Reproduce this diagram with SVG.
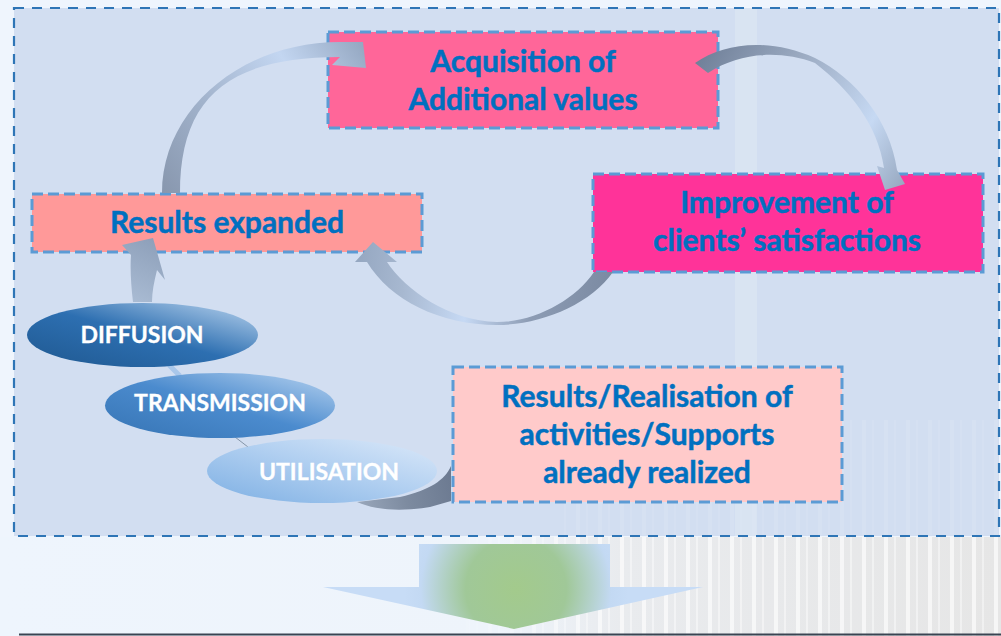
<svg xmlns="http://www.w3.org/2000/svg" width="1001" height="636" viewBox="0 0 1001 636">
<defs>
<style>
.box{stroke:#5b9bd5;stroke-width:3;stroke-dasharray:11 5}
.t{font-family:Lato,"Liberation Sans",sans-serif;font-weight:bold;fill:#0070c0;stroke:#0070c0;stroke-width:0.5;text-anchor:middle;font-size:30px}
.e{font-family:Lato,"Liberation Sans",sans-serif;font-weight:bold;fill:#ffffff;stroke:#ffffff;stroke-width:0.3;text-anchor:middle;font-size:23px}
</style>
<linearGradient id="bgBand" x1="0" y1="0" x2="1" y2="0">
<stop offset="0" stop-color="#eef5fd"/><stop offset="0.5" stop-color="#eef4fb"/><stop offset="0.62" stop-color="#e9ebee"/><stop offset="1" stop-color="#e6e6e6"/>
</linearGradient>
<pattern id="stripes" x="0" y="0" width="22" height="100" patternUnits="userSpaceOnUse">
<rect x="4" y="0" width="4" height="100" fill="#ffffff" opacity="0.8"/>
<rect x="14" y="0" width="2" height="100" fill="#ffffff" opacity="0.5"/>
</pattern>
<linearGradient id="fadeR" x1="0" y1="0" x2="1" y2="0">
<stop offset="0" stop-color="#fff" stop-opacity="0"/><stop offset="0.45" stop-color="#fff" stop-opacity="0"/><stop offset="0.6" stop-color="#fff" stop-opacity="1"/><stop offset="1" stop-color="#fff" stop-opacity="1"/>
</linearGradient>
<mask id="stripeMask"><rect x="0" y="0" width="1001" height="636" fill="url(#fadeR)"/></mask>
<linearGradient id="g1" x1="160" y1="193" x2="366" y2="42" gradientUnits="userSpaceOnUse">
<stop offset="0" stop-color="#8796ad"/><stop offset="0.35" stop-color="#a2b3cc"/><stop offset="0.7" stop-color="#c3d6f1"/><stop offset="1" stop-color="#92a5bf"/>
</linearGradient>
<linearGradient id="g2" x1="695" y1="60" x2="900" y2="190" gradientUnits="userSpaceOnUse">
<stop offset="0" stop-color="#6f7f98"/><stop offset="0.35" stop-color="#9aa9c0"/><stop offset="0.75" stop-color="#c6d9f3"/><stop offset="1" stop-color="#98a9c1"/>
</linearGradient>
<linearGradient id="g3" x1="612" y1="280" x2="355" y2="250" gradientUnits="userSpaceOnUse">
<stop offset="0" stop-color="#7b8aa2"/><stop offset="0.3" stop-color="#8d9cb4"/><stop offset="0.55" stop-color="#c6d9f4"/><stop offset="0.8" stop-color="#a7b8d0"/><stop offset="1" stop-color="#94a6c0"/>
</linearGradient>
<linearGradient id="g4" x1="355" y1="500" x2="453" y2="480" gradientUnits="userSpaceOnUse">
<stop offset="0" stop-color="#9aa8bc"/><stop offset="0.5" stop-color="#7d8ba0"/><stop offset="1" stop-color="#6c7a91"/>
</linearGradient>
<linearGradient id="g5" x1="130" y1="300" x2="160" y2="240" gradientUnits="userSpaceOnUse">
<stop offset="0" stop-color="#a9bbd3"/><stop offset="1" stop-color="#8d9fb9"/>
</linearGradient>
<linearGradient id="eD" x1="0" y1="1" x2="1" y2="0">
<stop offset="0" stop-color="#1f5890"/><stop offset="0.5" stop-color="#2d6fb1"/><stop offset="1" stop-color="#bcd5ef"/>
</linearGradient>
<linearGradient id="eT" x1="0" y1="1" x2="1" y2="0">
<stop offset="0" stop-color="#3674b4"/><stop offset="0.5" stop-color="#4b8bce"/><stop offset="1" stop-color="#b8d3f0"/>
</linearGradient>
<linearGradient id="eU" x1="0" y1="1" x2="1" y2="0">
<stop offset="0" stop-color="#7dafe3"/><stop offset="0.55" stop-color="#b2d0f1"/><stop offset="1" stop-color="#dce9f9"/>
</linearGradient>
<radialGradient id="gDown" cx="516" cy="589" r="112" gradientUnits="userSpaceOnUse">
<stop offset="0" stop-color="#a3ca8c"/><stop offset="0.45" stop-color="#a0c898"/><stop offset="0.85" stop-color="#c3d9f3"/><stop offset="1" stop-color="#c7dcf6"/>
</radialGradient>
</defs>

<g id="background">
<rect x="0" y="0" width="1001" height="636" fill="#eff5fd"/>
<rect x="0" y="537" width="1001" height="99" fill="url(#bgBand)"/>
<rect x="0" y="537" width="1001" height="99" fill="url(#stripes)" mask="url(#stripeMask)" opacity="0.8"/>
<rect x="14" y="8" width="985" height="528" fill="#d2def1"/>
<rect x="560" y="420" width="438" height="115" fill="url(#stripes)" opacity="0.12"/>
<rect x="735" y="8" width="22" height="528" fill="#dde7f4" opacity="0.6"/>
<rect x="14" y="8" width="985" height="528" fill="none" stroke="#2e75b6" stroke-width="2.2" stroke-dasharray="10 8"/>
</g>

<g id="n-acq">
<rect class="box" x="328" y="32" width="390" height="96" fill="#ff6699"/>
<text class="t" x="523" y="72">Acquisition of</text>
<text class="t" x="523" y="110">Additional values</text>
</g>

<g id="n-imp">
<rect class="box" x="593" y="174" width="390" height="98" fill="#ff3399"/>
<text class="t" x="787" y="213">Improvement of</text>
<text class="t" x="787" y="251">clients’ satisfactions</text>
</g>

<g id="n-exp">
<rect class="box" x="32" y="194" width="390" height="58" fill="#ff9999"/>
<text class="t" x="227" y="233">Results expanded</text>
</g>

<g id="n-real">
<rect class="box" x="453" y="367" width="389" height="135" fill="#ffcaca"/>
<text class="t" x="647" y="407">Results/Realisation of</text>
<text class="t" x="647" y="445">activities/Supports</text>
<text class="t" x="647" y="483">already realized</text>
</g>

<g id="connectors">
<path id="a1" d="M162,193 C162,109.6 241.7,42 340,42 L363,42 L366,68 L332,65 L340,57 C228,57 180,97.8 180,193 Z" fill="url(#g1)"/>
<path id="a2" d="M695,63 C725,42 770,38 815,58 C855,78 890,120 897,170 L905,184 L885,190 L877,166 L884,168 C878,125 850,90 815,63 C780,50 740,52 708,73 Z" fill="url(#g2)"/>
<path id="a3" d="M613,272 C590,305 540,325 497,325 C440,325 390,300 367,262 L355,262 L373,242 L397,262 L387,262 C405,290 450,321 497,322 C535,322 575,300 594,272 Z" fill="url(#g3)"/>
<path id="a5" d="M133,302 C131,285 130,268 131,255 L122,245 L153,238 L165,280 L157,270 C154,282 152,292 152,302 Z" fill="url(#g5)"/>
<path id="a4" d="M357,502 C375,510 400,512 430,507 L451,501 L451,466 C445,480 430,490 400,497 Z" fill="url(#g4)"/>
<line x1="169" y1="365" x2="180" y2="376" stroke="#a9c7ea" stroke-width="5"/>
<line x1="235" y1="437" x2="248" y2="447" stroke="#8595a8" stroke-width="1"/>
</g>

<g id="n-diff">
<ellipse cx="142.5" cy="335" rx="115.5" ry="32" fill="url(#eD)"/>
<text class="e" x="142" y="343">DIFFUSION</text>
</g>

<g id="n-trans">
<ellipse cx="220" cy="405.5" rx="115" ry="32.5" fill="url(#eT)"/>
<text class="e" x="220" y="411">TRANSMISSION</text>
</g>

<g id="n-util">
<ellipse cx="322" cy="471" rx="115" ry="32" fill="url(#eU)"/>
<text class="e" x="329" y="480">UTILISATION</text>
</g>

<g id="down-arrow">
<path d="M419,544 L610,544 L610,587 L703,587 L514,629 L323,587 L419,587 Z" fill="url(#gDown)"/>
</g>
<line x1="19" y1="634.5" x2="1001" y2="634.5" stroke="#3a4452" stroke-width="2"/>
</svg>
